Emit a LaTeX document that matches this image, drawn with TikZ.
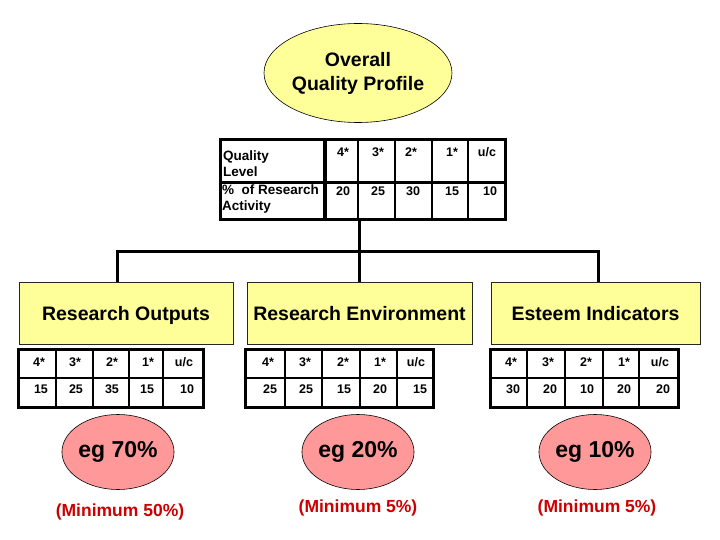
\documentclass[tikz,border=0pt]{standalone}
\usepackage{fontspec}
\setmainfont{Liberation Sans}
\usetikzlibrary{shapes.geometric}
\definecolor{paleyellow}{HTML}{FFFF99}
\definecolor{palepink}{HTML}{FF9999}
\definecolor{minred}{HTML}{CC0000}

\tikzset{
  areabox/.style={draw=black!85, line width=0.8pt, fill=paleyellow, inner sep=0pt,
    minimum height=62pt, minimum width=#1, text depth=0pt,
    font=\fontsize{19.5}{23}\selectfont\bfseries},
  shareball/.style={ellipse, draw=black, line width=0.6pt, fill=palepink, inner sep=0pt,
    minimum width=87pt, minimum height=75pt, font=\fontsize{23}{26}\selectfont\bfseries},
  minlabel/.style={text=minred, font=\fontsize{17.5}{20}\selectfont\bfseries},
  tabframe/.style={draw, line width=3pt, inner sep=0pt},
  tabline/.style={line width=2pt},
  cell/.style={inner sep=0pt, font=\fontsize{12.5}{14}\selectfont\bfseries},
  rowlabel/.style={inner sep=0pt, align=left, font=\fontsize{13.5}{16}\selectfont\bfseries},
  conn/.style={line width=3pt}
}

\begin{document}
\begin{tikzpicture}[x=1pt,y=-1pt]

\useasboundingbox (0,0) rectangle (720,540);

\node[ellipse, draw=black, line width=0.6pt, fill=paleyellow, inner sep=0pt,
  minimum width=188pt, minimum height=99pt, align=center,
  font=\fontsize{19.5}{24}\selectfont\bfseries] (overall) at (358,73) {Overall\\Quality Profile};

\node[tabframe, minimum width=285pt, minimum height=80pt] (qtab) at (362.5,180) {};
\draw[tabline, line width=3pt] (220,183) -- (505,183);
\draw[tabline, line width=4pt] (325,140) -- (325,220);
\draw[tabline] (358,140) -- (358,220);
\draw[tabline] (395,140) -- (395,220);
\draw[tabline] (432,140) -- (432,220);
\draw[tabline] (468,140) -- (468,220);

\node[rowlabel, anchor=north west] (qlevel) at (223,151) {Quality\\Level};
\node[rowlabel, anchor=north west] (qshare) at (222,185) {\%\ \ of Research\\Activity};

\node[cell] (qh1) at (343,152) {4*};
\node[cell] (qh2) at (378,152) {3*};
\node[cell] (qh3) at (411,152) {2*};
\node[cell] (qh4) at (452,152) {1*};
\node[cell] (qh5) at (487,152) {u/c};
\node[cell] (qv1) at (343,191) {20};
\node[cell] (qv2) at (378,191) {25};
\node[cell] (qv3) at (413,191) {30};
\node[cell] (qv4) at (452,191) {15};
\node[cell] (qv5) at (490,191) {10};

\node[areabox=214pt] (out) at (126,313) {Research Outputs};
\node[areabox=225pt] (env) at (359.5,313) {Research Environment};
\node[areabox=209pt] (est) at (595.5,313) {Esteem Indicators};

\coordinate (hub) at (360,251);
\draw[conn] (env.north |- qtab.south) -- (env.north);
\draw[conn] ([xshift=-9pt]out.north) |- (hub) -| ([xshift=2.5pt]est.north);

\node[tabframe, minimum width=185pt, minimum height=58pt] (outtab) at (110.5,378) {};
\draw[tabline] (18,378) -- (203,378);
\draw[tabline] (56,349) -- (56,407);
\draw[tabline] (93,349) -- (93,407);
\draw[tabline] (129,349) -- (129,407);
\draw[tabline] (163,349) -- (163,407);

\node[cell] (outh1) at (39,362) {4*};
\node[cell] (outh2) at (75,362) {3*};
\node[cell] (outh3) at (112,362) {2*};
\node[cell] (outh4) at (148,362) {1*};
\node[cell] (outh5) at (184,362) {u/c};
\node[cell] (outv1) at (41,389) {15};
\node[cell] (outv2) at (76,389) {25};
\node[cell] (outv3) at (112,389) {35};
\node[cell] (outv4) at (147,389) {15};
\node[cell] (outv5) at (187,389) {10};

\node[tabframe, minimum width=188pt, minimum height=58pt] (envtab) at (339,378) {};
\draw[tabline] (245,378) -- (433,378);
\draw[tabline] (285,349) -- (285,407);
\draw[tabline] (322,349) -- (322,407);
\draw[tabline] (360,349) -- (360,407);
\draw[tabline] (397,349) -- (397,407);

\node[cell] (envh1) at (268,362) {4*};
\node[cell] (envh2) at (305,362) {3*};
\node[cell] (envh3) at (343,362) {2*};
\node[cell] (envh4) at (380,362) {1*};
\node[cell] (envh5) at (416,362) {u/c};
\node[cell] (envv1) at (270,389) {25};
\node[cell] (envv2) at (306,389) {25};
\node[cell] (envv3) at (344,389) {15};
\node[cell] (envv4) at (380,389) {20};
\node[cell] (envv5) at (420,389) {15};

\node[tabframe, minimum width=188pt, minimum height=58pt] (esttab) at (584,378) {};
\draw[tabline] (490,378) -- (678,378);
\draw[tabline] (527,349) -- (527,407);
\draw[tabline] (565,349) -- (565,407);
\draw[tabline] (603,349) -- (603,407);
\draw[tabline] (639,349) -- (639,407);

\node[cell] (esth1) at (511,362) {4*};
\node[cell] (esth2) at (548,362) {3*};
\node[cell] (esth3) at (586,362) {2*};
\node[cell] (esth4) at (624,362) {1*};
\node[cell] (esth5) at (660,362) {u/c};
\node[cell] (estv1) at (513,389) {30};
\node[cell] (estv2) at (550,389) {20};
\node[cell] (estv3) at (587,389) {10};
\node[cell] (estv4) at (624,389) {20};
\node[cell] (estv5) at (663,389) {20};

\node[shareball] (outball) at (118,452) {eg 70\%};
\node[shareball] (envball) at (358,452) {eg 20\%};
\node[shareball] (estball) at (595,452) {eg 10\%};

\node[minlabel] (outmin) at (120,512) {(Minimum 50\%)};
\node[minlabel] (envmin) at (358,508) {(Minimum 5\%)};
\node[minlabel] (estmin) at (597,508) {(Minimum 5\%)};

\end{tikzpicture}
\end{document}
